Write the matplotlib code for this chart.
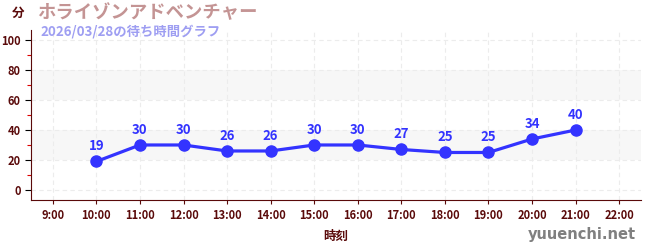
import matplotlib
matplotlib.use("Agg")
import matplotlib.pyplot as plt
from matplotlib.ticker import MultipleLocator

plt.rcParams['font.family'] = ['Noto Sans CJK JP', 'DejaVu Sans']

# data
hours = [10, 11, 12, 13, 14, 15, 16, 17, 18, 19, 20, 21]
waits = [19, 30, 30, 26, 26, 30, 30, 27, 25, 25, 34, 40]
tick_hours = list(range(9, 23))
tick_labels = [f"{h}:00" for h in tick_hours]
title = "ホライゾンアドベンチャー"
subtitle = "2026/03/28の待ち時間グラフ"

dark = "#5a0a0a"
blue = "#3333ff"

fig = plt.figure(figsize=(6.5, 2.5), dpi=100)
ax = fig.add_axes([31 / 650, 50 / 250, 610 / 650, 170 / 250])

ax.set_xlim(8.5, 22.5)
ax.set_ylim(-6.7, 106.7)

# background bands
for lo, hi in [(20, 40), (60, 80)]:
    ax.axhspan(lo, hi, color="#f7f7f7", zorder=0, lw=0)

ax.set_xticks(tick_hours)
ax.set_xticklabels(tick_labels)
ax.yaxis.set_major_locator(MultipleLocator(20))
ax.yaxis.set_minor_locator(MultipleLocator(10))
ax.grid(True, which="major", color="#ececec", ls=(0, (4, 3)), lw=0.8, zorder=0)

ax.plot(hours, waits, color=blue, lw=2.3, marker="o", ms=8, zorder=3)
for h, w in zip(hours, waits):
    ax.annotate(str(w), (h, w), xytext=(0, 6), textcoords="offset points",
                ha="center", va="bottom", color=blue, fontsize=9.5, fontweight="bold")

for s in ["top", "right"]:
    ax.spines[s].set_visible(False)
ax.spines["left"].set_color(dark)
ax.spines["bottom"].set_color(dark)
ax.tick_params(axis="both", which="major", colors=dark, labelsize=8, length=4, width=0.8)
ax.tick_params(axis="y", which="minor", color="#dd0000", length=3, width=0.8)
ax.tick_params(axis="y", which="major", color="black")
ax.tick_params(axis="x", which="major", color=dark, length=3)
for lbl in ax.get_xticklabels() + ax.get_yticklabels():
    lbl.set_fontweight("bold")

ax.set_xlabel("時刻", color=dark, fontsize=9, fontweight="bold", labelpad=6)

fig.text(12 / 650, 1 - 13 / 250, "分", color=dark, fontsize=9, fontweight="bold", va="center")
fig.text(37 / 650, 1 - 13 / 250, title, color="#c49494", fontsize=13.2, fontweight="bold", va="center")
fig.text(40 / 650, 1 - 31 / 250, subtitle, color="#9e9ef2", fontsize=9.6, fontweight="bold", va="center")
fig.text(636 / 650, 1 - 235 / 250, "yuuenchi.net", color="#808080", fontsize=10.5,
         fontweight="bold", ha="right", va="center", family=["DejaVu Sans"])

fig.savefig("out.png", dpi=100)
